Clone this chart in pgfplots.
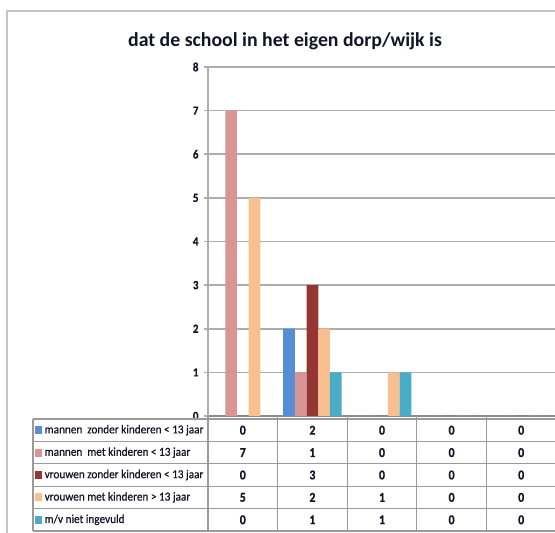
\documentclass[border=0pt]{standalone}
\usepackage{fontspec}
\setmainfont{Carlito}
\newfontfamily\legfont{Carlito}[FakeStretch=0.92, FakeBold=0.6]
\newfontfamily\numfont{Carlito Bold}[FakeStretch=0.88, FakeBold=0.6]
\usepackage{pgfplots}
\pgfplotsset{compat=1.18}
\definecolor{cBlue}{HTML}{558ED5}
\definecolor{cPink}{HTML}{D99594}
\definecolor{cRed}{HTML}{943634}
\definecolor{cPeach}{HTML}{F9BF8F}
\definecolor{cTeal}{HTML}{4BACC6}
\definecolor{gridGray}{HTML}{ADADAD}
\definecolor{axisGray}{HTML}{8C8C8C}
\definecolor{frameGray}{HTML}{C4C4C4}
\definecolor{lineGray}{HTML}{9A9A9A}
\definecolor{txt}{HTML}{141428}
\begin{document}
\begin{tikzpicture}[x=1pt,y=1pt]
\path[use as bounding box, clip] (0,0) rectangle (555,533);
\fill[white] (0,0) rectangle (555,533);
\draw[color=frameGray, line width=2pt] (7,-10) -- (7,522) -- (600,522);
\node[anchor=base, font=\fontsize{19.8}{22}\selectfont\bfseries, text=txt, inner sep=0pt] at (285,486) {dat de school in het eigen dorp/wijk is};
\begin{axis}[
  at={(208pt,117pt)}, anchor=south west,
  scale only axis, width=348pt, height=349pt,
  xmin=-0.5, xmax=4.5, ymin=0, ymax=8,
  ytick={0,1,...,8}, xtick=\empty,
  axis x line*=bottom, axis y line*=left,
  x axis line style={color=axisGray, line width=2pt},
  y axis line style={color=gridGray, line width=1.3pt},
  ymajorgrids, grid style={color=gridGray, line width=1.6pt},
  tick align=outside, major tick length=4pt,
  ytick style={color=gridGray, line width=1.6pt},
  yticklabel style={font=\numfont\fontsize{12.5}{14}\selectfont, text=txt, xshift=-2pt},
  /pgf/number format/assume math mode=true,
  ybar=0pt, bar width=11.7pt,
  clip=false,
]
\addplot[fill=cBlue, draw=none] coordinates {(0,0) (1,2) (2,0) (3,0) (4,0)};
\addplot[fill=cPink, draw=none] coordinates {(0,7) (1,1) (2,0) (3,0) (4,0)};
\addplot[fill=cRed, draw=none] coordinates {(0,0) (1,3) (2,0) (3,0) (4,0)};
\addplot[fill=cPeach, draw=none] coordinates {(0,5) (1,2) (2,1) (3,0) (4,0)};
\addplot[fill=cTeal, draw=none] coordinates {(0,0) (1,1) (2,1) (3,0) (4,0)};
\end{axis}
% data table below the plot
\begin{scope}[color=lineGray, line width=1.1pt]
\foreach \y in {114,91.6,69.2,46.8,24.4,2} \draw (33,\y) -- (600,\y);
\draw (33,2) -- (33,114);
\foreach \x in {208,277.6,347.2,416.8,486.4} \draw (\x,2) -- (\x,117);
\end{scope}
\foreach \c/\t [count=\i] in {cBlue/{mannen\hspace{5pt}zonder kinderen < 13 jaar},
                             cPink/{mannen\hspace{5pt}met kinderen < 13 jaar},
                             cRed/{vrouwen zonder kinderen < 13 jaar},
                             cPeach/{vrouwen met kinderen > 13 jaar},
                             cTeal/{m/v niet ingevuld}} {
  \pgfmathsetmacro{\yc}{114-22.4*\i+11.2}
  \fill[\c] (35,\yc-4) rectangle (42,\yc+4);
  \node[anchor=west, inner sep=0pt, font=\legfont\fontsize{12.2}{14}\selectfont, text=txt] at (44.5,\yc) {\t};
}
\foreach \r/\vals in {1/{0,2,0,0,0}, 2/{7,1,0,0,0}, 3/{0,3,0,0,0}, 4/{5,2,1,0,0}, 5/{0,1,1,0,0}} {
  \pgfmathsetmacro{\yc}{114-22.4*\r+11.2}
  \foreach \v [count=\j] in \vals {
    \pgfmathsetmacro{\xc}{208+69.6*(\j-0.5)}
    \node[inner sep=0pt, font=\numfont\fontsize{13.5}{15}\selectfont, text=txt] at (\xc,\yc) {\v};
  }
}
\end{tikzpicture}
\end{document}
